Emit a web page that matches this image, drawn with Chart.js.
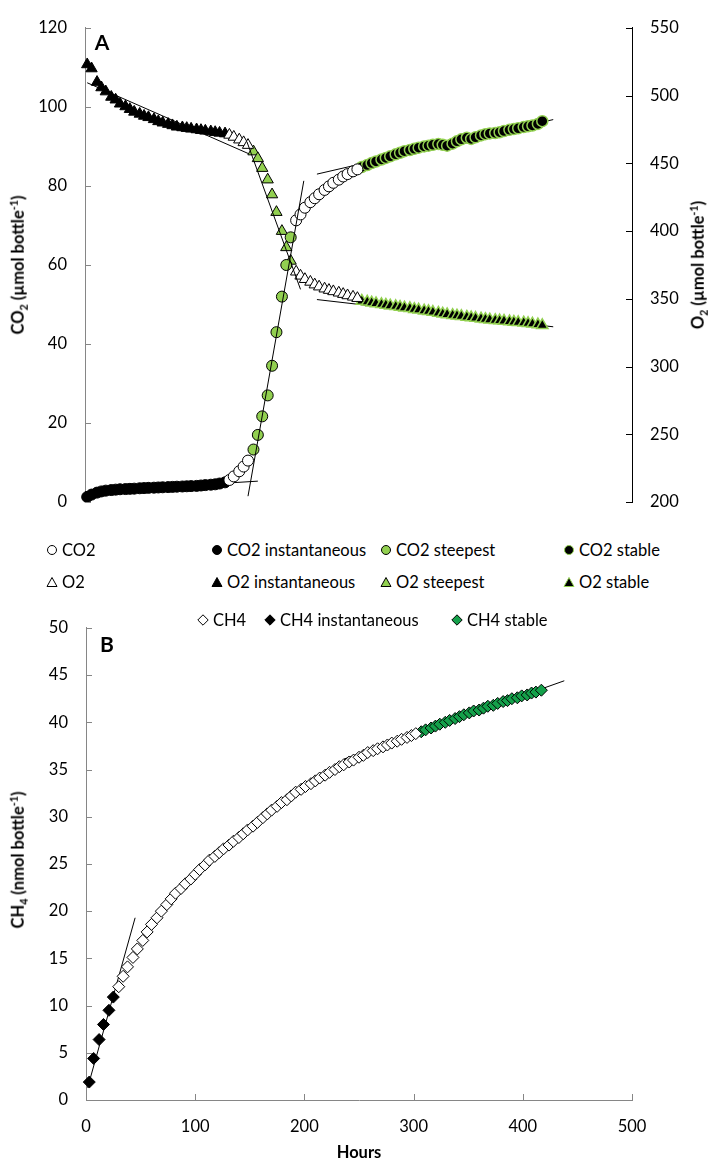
<!DOCTYPE html>
<html>
<head>
<meta charset="utf-8">
<script src="https://cdn.jsdelivr.net/npm/chart.js@4.4.1/dist/chart.umd.min.js"></script>
<style>
  html, body { margin: 0; padding: 0; background: #fff; }
  body { width: 720px; height: 1166px; position: relative; overflow: hidden; font-family: Lato, 'Open Sans', sans-serif; color: #000; }
  canvas { position: absolute; left: 0; }
  #chartA { top: 0; }
  #chartB { top: 600px; }
  .txt { position: absolute; white-space: nowrap; line-height: 1; transform: translate(-50%, -50%); }
  .letter { font-weight: bold; font-size: 21px; }
  .ytitle { font-weight: bold; font-size: 16.5px; transform: translate(-50%, -50%) rotate(-90deg); }
  .xtitle { font-weight: bold; font-size: 16.5px; }
  sub, sup { font-size: 0.65em; line-height: 0; }
  .legend-item { position: absolute; display: flex; align-items: center; font-size: 16.5px; white-space: nowrap; transform: translateY(-50%); }
  .legend-item svg { margin-right: 4px; }
</style>
</head>
<body>
<canvas id="chartA" width="720" height="530"></canvas>
<canvas id="chartB" width="720" height="566"></canvas>

<div class="txt letter" style="left:102px; top:41px">A</div>
<div class="txt letter" style="left:107px; top:643px">B</div>
<div class="txt ytitle" style="left:18px; top:265px">CO<sub>2</sub> (µmol bottle<sup>-1</sup>)</div>
<div class="txt ytitle" style="left:698px; top:265px">O<sub>2</sub> (µmol bottle<sup>-1</sup>)</div>
<div class="txt ytitle" style="left:18px; top:860px">CH<sub>4</sub> (nmol bottle<sup>-1</sup>)</div>
<div class="txt xtitle" style="left:359px; top:1152px">Hours</div>
<div id="legends"></div>

<script>
// ---- Panel A: CO2 (left axis) and O2 (right axis), same sampling hours
const hoursA = [2, 6, 11, 15, 19, 24, 28, 32, 37, 41, 45, 50, 54, 58, 63, 67, 71, 76, 80, 84,
  89, 93, 97, 102, 106, 110, 115, 119, 123, 128,
  132, 136, 141, 145, 149,
  154, 158, 162, 167, 171, 175, 180, 184, 188,
  193, 197, 201, 206, 210, 214, 219, 223, 227, 232, 236, 240, 245, 249,
  253, 258, 262, 266, 271, 275, 279, 284, 288, 292, 297, 301, 305, 310, 314, 318, 323, 327, 331, 336,
  340, 344, 349, 353, 357, 362, 366, 370, 375, 379, 383, 388, 392, 396, 401, 405, 409, 414, 418];

const co2 = [1.3, 1.9, 2.4, 2.7, 2.9, 3.05, 3.15, 3.25, 3.3, 3.35, 3.4, 3.5, 3.55, 3.6, 3.65, 3.7, 3.75, 3.8, 3.85, 3.9,
  3.95, 4.0, 4.05, 4.1, 4.2, 4.3, 4.4, 4.5, 4.7, 5.0,
  5.6, 6.5, 7.8, 9.0, 10.5,
  13.3, 17.0, 21.7, 27.0, 34.5, 43.0, 52.0, 60.0, 67.0,
  71.3, 72.8, 74.5, 75.9, 76.9, 77.9, 79.0, 79.9, 80.8, 81.6, 82.4, 83.0, 83.7, 84.2,
  84.8, 85.3, 85.8, 86.2, 86.7, 87.1, 87.5, 88.0, 88.4, 88.8, 89.1, 89.4, 89.7, 90.0, 90.2, 90.4, 90.6, 90.4, 90.2, 90.7,
  91.3, 91.8, 92.2, 91.9, 92.3, 92.8, 93.1, 93.3, 93.4, 93.6, 93.9, 94.2, 94.4, 94.6, 94.9, 95.1, 95.3, 95.7, 96.4];

const o2 = [523, 520, 510, 506, 503, 499, 497, 494, 492, 490, 488, 486.5, 485, 484, 482.5, 481, 480, 479, 478, 477,
  476.5, 476, 475.5, 475, 474.5, 474, 473.5, 473, 472.5, 472,
  471, 469.5, 467.5, 465.5, 463.5,
  458.7, 453.7, 446.5, 438, 427, 414, 400, 388, 378,
  370, 367, 364.5, 362.5, 360.5, 359, 357.5, 356.5, 355.5, 354.5, 353.5, 352.5, 351.5, 350.5,
  348.5, 347.8, 347.2, 346.6, 346.0, 345.5, 345.0, 344.5, 344.0, 343.5, 343.0, 342.4, 341.9, 341.3, 340.8, 340.3, 339.6, 339.0, 338.5, 338.0,
  337.6, 337.2, 336.7, 336.2, 335.8, 335.4, 335.0, 334.6, 334.3, 334.0, 333.7, 333.3, 333.0, 332.7, 332.4, 332.0, 331.6, 331.0, 330.5];

// phase boundaries (hours): instantaneous | - | steepest | - | stable
const phaseA = [130, 152, 190, 251];

// fitted lines [hour, value]
const co2InstantLine = [[0, 2.6], [158, 5.3]];
const co2SteepLine = [[149, 1.5], [200, 81.3]];
const co2StableLine = [[212, 83.0], [428, 96.8]];
const o2InstantLine = [[2, 509.5], [150, 457]];
const o2SteepLine = [[148, 466], [197, 357]];
const o2StableLine = [[212, 349.5], [428, 329.4]];

const co2Ticks = [0, 120, 20];   // min, max, step
const o2Ticks = [200, 550, 50];

// ---- Panel B: CH4
const hoursB = [3, 7, 12, 16, 21, 25,
  30, 34, 38, 43, 47, 52, 56, 60, 65, 69, 74, 78, 82, 87, 91, 96, 100, 104, 109, 113, 118, 122, 126, 131,
  135, 140, 144, 148, 153, 157, 162, 166, 170, 175, 179, 184, 188, 192, 197, 201, 206, 210, 214, 219,
  223, 228, 232, 236, 241, 245, 250, 254, 258, 263, 267, 272, 276, 280, 285, 289, 294, 298, 302,
  307, 311, 316, 320, 324, 329, 333, 338, 342, 346, 351, 355, 360, 364, 368, 373, 377, 382, 386, 390,
  395, 399, 404, 408, 412, 417];

const ch4 = [1.9, 4.4, 6.4, 8.0, 9.5, 10.9,
  12.0, 13.1, 14.1, 15.1, 16.0, 16.9, 17.8, 18.6, 19.3, 20.0, 20.7, 21.3, 21.9, 22.4, 22.9, 23.4, 23.9, 24.4, 24.9, 25.4, 25.8, 26.2, 26.6, 27.0,
  27.4, 27.8, 28.2, 28.6, 29.0, 29.4, 29.9, 30.3, 30.7, 31.1, 31.5, 31.8, 32.2, 32.6, 32.9, 33.2, 33.5, 33.8, 34.1, 34.4,
  34.7, 35.0, 35.3, 35.5, 35.8, 36.0, 36.3, 36.5, 36.8, 37.0, 37.2, 37.4, 37.6, 37.8, 38.0, 38.2, 38.4, 38.6, 38.8,
  39.0, 39.2, 39.4, 39.6, 39.8, 40.0, 40.2, 40.4, 40.6, 40.8, 41.0, 41.2, 41.3, 41.5, 41.7, 41.8, 42.0, 42.2, 42.3, 42.5,
  42.6, 42.8, 42.9, 43.1, 43.2, 43.4];

const phaseB = [27, 304];   // instantaneous | - | stable
const ch4InstantLine = [[1.5, 1.3], [45, 19.3]];
const ch4StableLine = [[236, 36.1], [438, 44.4]];

const hourTicks = [0, 500, 100];
const ch4Ticks = [0, 50, 5];

// ---- styling
const lightGreen = '#92d050';
const darkGreen = '#14a04a';
const axisGrey = '#868686';
const tickFont = { family: 'Lato', size: 16.5 };

function segment(hours, values, from, to) {
  const pts = [];
  for (let i = 0; i < hours.length; i++) {
    if (hours[i] >= from && hours[i] < to) pts.push({ x: hours[i], y: values[i] });
  }
  return pts;
}

function toPoints(pairs) {
  return pairs.map(p => ({ x: p[0], y: p[1] }));
}

function markers(label, data, shape, fill, stroke, yAxisID, order, size, bw) {
  return {
    label: label, data: data, yAxisID: yAxisID, order: order,
    pointStyle: shape, pointRadius: size, pointHoverRadius: size,
    backgroundColor: fill, borderColor: stroke, borderWidth: bw || 1,
    showLine: false, clip: false
  };
}

function fitLine(pairs, yAxisID, order) {
  return {
    label: '', data: toPoints(pairs), yAxisID: yAxisID, order: order,
    showLine: true, pointRadius: 0, borderColor: '#000', borderWidth: 1, clip: false
  };
}

// ticks drawn inside the plot area, like the original
const insideTicks = {
  id: 'insideTicks',
  afterDatasetsDraw(chart) {
    const ctx = chart.ctx;
    const area = chart.chartArea;
    ctx.save();
    ctx.lineWidth = 1;
    Object.values(chart.scales).forEach(scale => {
      if (!scale.options.display) return;
      ctx.strokeStyle = scale.options.border.color;
      scale.ticks.forEach((t, i) => {
        const p = Math.round(scale.getPixelForTick(i)) + 0.5;
        ctx.beginPath();
        if (scale.axis === 'x') {
          ctx.moveTo(p, area.bottom); ctx.lineTo(p, area.bottom - 6);
        } else if (scale.position === 'left') {
          ctx.moveTo(area.left, p); ctx.lineTo(area.left + 6, p);
        } else {
          ctx.moveTo(area.right, p); ctx.lineTo(area.right - 6, p);
        }
        ctx.stroke();
      });
    });
    ctx.restore();
  }
};

function valueAxis(position, t, color, width, padding) {
  return {
    type: 'linear', position: position, min: t[0], max: t[1],
    ticks: { stepSize: t[2], padding: padding, font: tickFont, color: '#000' },
    grid: { drawOnChartArea: false, drawTicks: false },
    border: { color: color, width: 1 },
    afterFit: s => { s.width = width; }
  };
}

const commonPlugins = { legend: { display: false }, tooltip: { enabled: false } };

// ---- chart A
const a = phaseA;
const co2Open = segment(hoursA, co2, a[0], a[1]).concat(segment(hoursA, co2, a[2], a[3]));
const o2Open = segment(hoursA, o2, a[0], a[1]).concat(segment(hoursA, o2, a[2], a[3]));

new Chart(document.getElementById('chartA'), {
  type: 'scatter',
  data: {
    datasets: [
      fitLine(co2SteepLine, 'y', 0),
      fitLine(o2SteepLine, 'y2', 0),
      markers('CO2', co2Open, 'circle', '#fff', '#000', 'y', 2, 5.5),
      markers('CO2 instantaneous', segment(hoursA, co2, 0, a[0]), 'circle', '#000', '#000', 'y', 2, 5.5),
      markers('CO2 steepest', segment(hoursA, co2, a[1], a[2]), 'circle', lightGreen, '#000', 'y', 2, 5.5),
      markers('CO2 stable', segment(hoursA, co2, a[3], 1000), 'circle', '#000', lightGreen, 'y', 2, 5.5, 1.5),
      markers('O2', o2Open, 'triangle', '#fff', '#000', 'y2', 3, 6.5),
      markers('O2 instantaneous', segment(hoursA, o2, 0, a[0]), 'triangle', '#000', '#000', 'y2', 3, 6.5),
      markers('O2 steepest', segment(hoursA, o2, a[1], a[2]), 'triangle', lightGreen, '#000', 'y2', 3, 6.5),
      markers('O2 stable', segment(hoursA, o2, a[3], 1000), 'triangle', '#000', lightGreen, 'y2', 3, 6.5, 1.5),
      fitLine(co2InstantLine, 'y', 9),
      fitLine(co2StableLine, 'y', 9),
      fitLine(o2InstantLine, 'y2', 9),
      fitLine(o2StableLine, 'y2', 9)
    ]
  },
  options: {
    responsive: false, animation: false,
    layout: { padding: { top: 21, bottom: 21, left: 0, right: 0 } },
    plugins: commonPlugins,
    scales: {
      x: { type: 'linear', display: false, min: hourTicks[0], max: hourTicks[1] },
      y: valueAxis('left', co2Ticks, axisGrey, 85, 18),
      y2: valueAxis('right', o2Ticks, '#000', 88, 18)
    }
  },
  plugins: [insideTicks]
});

// ---- chart B
const b = phaseB;
new Chart(document.getElementById('chartB'), {
  type: 'scatter',
  data: {
    datasets: [
      markers('CH4', segment(hoursB, ch4, b[0], b[1]), 'rectRot', '#fff', '#000', 'y', 1, 6),
      markers('CH4 instantaneous', segment(hoursB, ch4, 0, b[0]), 'rectRot', '#000', '#000', 'y', 1, 6),
      markers('CH4 stable', segment(hoursB, ch4, b[1], 1000), 'rectRot', darkGreen, '#000', 'y', 1, 6),
      fitLine(ch4InstantLine, 'y', 5),
      fitLine(ch4StableLine, 'y', 5)
    ]
  },
  options: {
    responsive: false, animation: false,
    layout: { padding: { top: 20, bottom: 0, left: 0, right: 88 } },
    plugins: commonPlugins,
    scales: {
      x: {
        type: 'linear', min: hourTicks[0], max: hourTicks[1],
        ticks: { stepSize: hourTicks[2], padding: 17, font: tickFont, color: '#000' },
        grid: { drawOnChartArea: false, drawTicks: false },
        border: { color: axisGrey, width: 1 },
        afterFit: s => { s.height = 66; }
      },
      y: valueAxis('left', ch4Ticks, axisGrey, 86, 18)
    }
  },
  plugins: [insideTicks]
});

// ---- legends (HTML, markers drawn as small svgs)
function markerSvg(shape, fill, stroke) {
  let el;
  if (shape === 'circle') el = '<circle cx="6" cy="6" r="4.5"/>';
  else if (shape === 'triangle') el = '<polygon points="6,1.5 11,10.5 1,10.5"/>';
  else el = '<polygon points="6,0.8 11.2,6 6,11.2 0.8,6"/>';
  return '<svg width="12" height="12" viewBox="0 0 12 12" fill="' + fill + '" stroke="' + stroke + '" stroke-width="1">' + el + '</svg>';
}

const legendItems = [
  ['CO2', 'circle', '#fff', '#000', 52, 550],
  ['CO2 instantaneous', 'circle', '#000', '#000', 217, 550],
  ['CO2 steepest', 'circle', lightGreen, '#000', 386, 550],
  ['CO2 stable', 'circle', '#000', lightGreen, 569, 550],
  ['O2', 'triangle', '#fff', '#000', 52, 582],
  ['O2 instantaneous', 'triangle', '#000', '#000', 217, 582],
  ['O2 steepest', 'triangle', lightGreen, '#000', 386, 582],
  ['O2 stable', 'triangle', '#000', lightGreen, 569, 582],
  ['CH4', 'rectRot', '#fff', '#000', 203, 620],
  ['CH4 instantaneous', 'rectRot', '#000', '#000', 270, 620],
  ['CH4 stable', 'rectRot', darkGreen, '#000', 457, 620]
];

document.getElementById('legends').innerHTML = legendItems.map(it =>
  '<div class="legend-item" style="left:' + (it[4] - 6) + 'px; top:' + it[5] + 'px">' +
  markerSvg(it[1], it[2], it[3]) + '<span>' + it[0] + '</span></div>'
).join('');
</script>
</body>
</html>
